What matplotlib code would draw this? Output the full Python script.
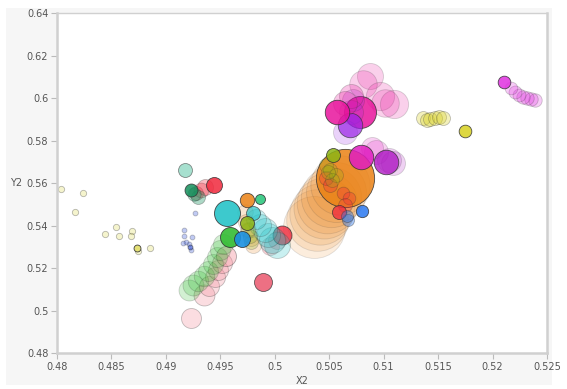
import matplotlib.pyplot as plt
from matplotlib.patches import Rectangle

# motion-chart style bubbles: each entity is a trail, last point is the current one
orange_x = [0.5036, 0.5039, 0.5042, 0.5045, 0.5048, 0.5052, 0.5056, 0.5060, 0.5065]
orange_y = [0.5395, 0.5425, 0.5455, 0.5482, 0.5508, 0.5535, 0.5560, 0.5590, 0.5625]
orange_p = [960, 950, 940, 930, 920, 910, 900, 880, 850]

orange2_x = [0.4980, 0.4978, 0.4976, 0.4974, 0.4973, 0.4975]
orange2_y = [0.5310, 0.5343, 0.5380, 0.5418, 0.5465, 0.5522]
orange2_p = [64, 64, 64, 64, 60, 52]

magenta_x = [0.5088, 0.5081, 0.5097, 0.5110, 0.5101, 0.5078]
magenta_y = [0.6105, 0.6067, 0.6011, 0.5973, 0.5978, 0.5936]
magenta_p = [170, 190, 200, 200, 190, 256]

magenta2_x = [0.5070, 0.5065, 0.5057]
magenta2_y = [0.6011, 0.5978, 0.5936]
magenta2_p = [144, 144, 150]

purple_x = [0.5072, 0.5070, 0.5065, 0.5069]
purple_y = [0.5992, 0.5936, 0.5841, 0.5874]
purple_p = [121, 144, 144, 150]

magenta3_x = [0.5093, 0.5089, 0.5079]
magenta3_y = [0.5747, 0.5766, 0.5724]
magenta3_p = [144, 121, 150]

purple2_x = [0.5109, 0.5105, 0.5102]
purple2_y = [0.5696, 0.5710, 0.5700]
purple2_p = [144, 144, 150]

yellow_x = [0.5136, 0.5140, 0.5143, 0.5147, 0.5151, 0.5155, 0.5175]
yellow_y = [0.5907, 0.5898, 0.5903, 0.5907, 0.5912, 0.5907, 0.5846]
yellow_p = [49, 49, 49, 49, 49, 49, 40]

pinkright_x = [0.5239, 0.5235, 0.5232, 0.5228, 0.5224, 0.5221, 0.5217, 0.5211]
pinkright_y = [0.5992, 0.5997, 0.6001, 0.6006, 0.6016, 0.6030, 0.6049, 0.6077]
pinkright_p = [45, 45, 45, 45, 42, 42, 40, 40]

red_x = [0.5047, 0.5051, 0.5063, 0.5068, 0.5065, 0.5059]
red_y = [0.5625, 0.5592, 0.5554, 0.5531, 0.5498, 0.5465]
red_p = [49, 49, 40, 40, 49, 50]

blue_x = [0.5067, 0.5066, 0.5080]
blue_y = [0.5427, 0.5446, 0.5470]
blue_p = [36, 36, 38]

lime_x = [0.5047, 0.5051, 0.5056, 0.5053, 0.5049, 0.5054]
lime_y = [0.5686, 0.5662, 0.5639, 0.5615, 0.5653, 0.5733]
lime_p = [49, 49, 49, 49, 49, 49]

redleft_x = [0.4996, 0.5002, 0.5007]
redleft_y = [0.5305, 0.5333, 0.5357]
redleft_p = [81, 81, 90]

cyan_x = [0.5002, 0.4998, 0.4994, 0.4991, 0.4987, 0.4983, 0.4980]
cyan_y = [0.5310, 0.5333, 0.5357, 0.5380, 0.5404, 0.5432, 0.5460]
cyan_p = [169, 169, 144, 144, 121, 100, 49]

cyanbig_x = [0.4956]
cyanbig_y = [0.5460]
cyanbig_p = [169]

green_x = [0.4921, 0.4925, 0.4930, 0.4935, 0.4939, 0.4943, 0.4947, 0.4950, 0.4953, 0.4959]
green_y = [0.5098, 0.5122, 0.5141, 0.5164, 0.5188, 0.5221, 0.5254, 0.5286, 0.5315, 0.5348]
green_p = [110, 110, 105, 105, 100, 100, 100, 100, 100, 100]

pink_x = [0.4923, 0.4935, 0.4940, 0.4945, 0.4948, 0.4952, 0.4955]
pink_y = [0.4967, 0.5075, 0.5117, 0.5160, 0.5192, 0.5225, 0.5258]
pink_p = [100, 110, 100, 100, 100, 100, 100]

darkred_x = [0.4989]
darkred_y = [0.5136]
darkred_p = [81]

paleteal_x = [0.4918]
paleteal_y = [0.5661]
paleteal_p = [49]

redul_x = [0.4928, 0.4932, 0.4936, 0.4944]
redul_y = [0.5554, 0.5568, 0.5582, 0.5592]
redul_p = [49, 55, 64, 64]

dkgreen_x = [0.4930, 0.4926, 0.4923]
dkgreen_y = [0.5536, 0.5549, 0.5568]
dkgreen_p = [49, 45, 42]

dots_x = [0.4927, 0.4917, 0.4917, 0.4924, 0.4916, 0.4919, 0.4921, 0.4923, 0.4922]
dots_y = [0.5460, 0.5380, 0.5352, 0.5348, 0.5319, 0.5324, 0.5315, 0.5286, 0.5300]
dots_p = [6, 6, 6, 6, 6, 6, 6, 6, 6]

paley_x = [0.4804, 0.4824, 0.4817, 0.4844, 0.4854, 0.4857, 0.4869, 0.4868, 0.4886, 0.4875, 0.4874]
paley_y = [0.5573, 0.5554, 0.5465, 0.5362, 0.5395, 0.5352, 0.5376, 0.5352, 0.5296, 0.5282, 0.5296]
paley_p = [10, 10, 10, 10, 10, 10, 10, 10, 10, 10, 12]

tealsm_x = [0.4987]
tealsm_y = [0.5526]
tealsm_p = [25]

bluemid_x = [0.4970]
bluemid_y = [0.5338]
bluemid_p = [64]

limemid_x = [0.4978, 0.4977, 0.4976, 0.4975]
limemid_y = [0.5324, 0.5352, 0.5380, 0.5413]
limemid_p = [49, 49, 49, 49]

x_ticks = [0.48, 0.485, 0.49, 0.495, 0.5, 0.505, 0.51, 0.515, 0.52, 0.525]
x_labels = ["0.48", "0.485", "0.49", "0.495", "0.5", "0.505", "0.51", "0.515", "0.52", "0.525"]
y_ticks = [0.48, 0.5, 0.52, 0.54, 0.56, 0.58, 0.6, 0.62, 0.64]
y_labels = ["0.48", "0.5", "0.52", "0.54", "0.56", "0.58", "0.6", "0.62", "0.64"]

# (x, y, size, colour, trail alpha, current alpha)
series = [
    (orange_x, orange_y, orange_p, "#ea8114", 0.14, 0.85),
    (orange2_x, orange2_y, orange2_p, "#ea8114", 0.2, 0.85),
    (magenta_x, magenta_y, magenta_p, "#e8149c", 0.2, 0.85),
    (purple_x, purple_y, purple_p, "#9a22e6", 0.2, 0.7),
    (magenta2_x, magenta2_y, magenta2_p, "#e8149c", 0.25, 0.85),
    (magenta3_x, magenta3_y, magenta3_p, "#e01cc0", 0.2, 0.85),
    (purple2_x, purple2_y, purple2_p, "#b01cc4", 0.2, 0.8),
    (yellow_x, yellow_y, yellow_p, "#d8d020", 0.3, 0.85),
    (pinkright_x, pinkright_y, pinkright_p, "#e030e0", 0.25, 0.85),
    (red_x, red_y, red_p, "#f0283c", 0.3, 0.75),
    (blue_x, blue_y, blue_p, "#2a78f0", 0.4, 0.85),
    (lime_x, lime_y, lime_p, "#8cb414", 0.25, 0.85),
    (redleft_x, redleft_y, redleft_p, "#f0283c", 0.2, 0.8),
    (cyan_x, cyan_y, cyan_p, "#28c4c8", 0.25, 0.7),
    (cyanbig_x, cyanbig_y, cyanbig_p, "#28c4c8", 0.3, 0.9),
    (pink_x, pink_y, pink_p, "#f4909c", 0.3, 0.4),
    (green_x, green_y, green_p, "#34bc34", 0.22, 0.9),
    (darkred_x, darkred_y, darkred_p, "#e8405a", 0.3, 0.75),
    (paleteal_x, paleteal_y, paleteal_p, "#60c8a8", 0.3, 0.55),
    (redul_x, redul_y, redul_p, "#f0283c", 0.3, 0.85),
    (dkgreen_x, dkgreen_y, dkgreen_p, "#14905c", 0.35, 0.85),
    (dots_x, dots_y, dots_p, "#3050d8", 0.3, 0.6),
    (paley_x, paley_y, paley_p, "#e4e070", 0.35, 0.95),
    (tealsm_x, tealsm_y, tealsm_p, "#30c880", 0.3, 0.9),
    (limemid_x, limemid_y, limemid_p, "#8cb414", 0.25, 0.85),
    (bluemid_x, bluemid_y, bluemid_p, "#1a90e0", 0.3, 0.9),
]

fig = plt.figure(figsize=(5.67, 3.89), dpi=100)
fig.patches.append(Rectangle((0.0106, 0.0103), 0.963, 0.969, transform=fig.transFigure,
                             facecolor="#f6f6f6", edgecolor="none", zorder=-1))
ax = fig.add_axes([0.1, 0.0918, 0.8647, 0.874])
ax.set_zorder(1)
ax.set_facecolor("white")

for xs, ys, ps, col, a_trail, a_now in series:
    n = len(xs)
    for i in range(n):
        a = a_now if i == n - 1 else a_trail
        ax.scatter(xs[i], ys[i], s=ps[i] * 2.07, color=col, alpha=a,
                   edgecolors=(0.2, 0.2, 0.2, 0.22), linewidths=0.6)

ax.set_xlim(0.48, 0.525)
ax.set_ylim(0.48, 0.64)
ax.set_xticks(x_ticks)
ax.set_xticklabels(x_labels)
ax.set_yticks(y_ticks)
ax.set_yticklabels(y_labels)
ax.tick_params(labelsize=7, colors="#bbbbbb", labelcolor="#555555", length=4, width=0.8, pad=2)

for side in ["left", "bottom", "top", "right"]:
    ax.spines[side].set_color("#d0d0d0")
ax.spines["left"].set_linewidth(1.8)
ax.spines["bottom"].set_linewidth(1.8)
ax.spines["top"].set_linewidth(1.0)
ax.spines["right"].set_linewidth(1.8)

ax.set_xlabel("X2", fontsize=7, color="#555555", labelpad=3)
ax.set_ylabel("Y2", fontsize=7, color="#555555", rotation=0, labelpad=8, va="center")

plt.savefig("out.png", dpi=100)
